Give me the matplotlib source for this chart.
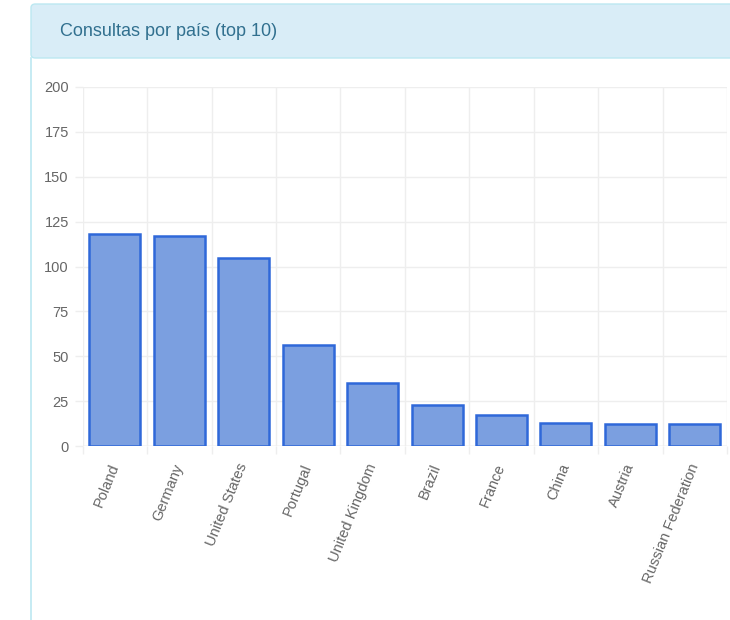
import matplotlib
matplotlib.use("Agg")
import matplotlib.pyplot as plt
from matplotlib.patches import FancyBboxPatch
from matplotlib.lines import Line2D
import numpy as np

# Data
countries = ["Poland", "Germany", "United States", "Portugal", "United Kingdom",
             "Brazil", "France", "China", "Austria", "Russian Federation"]
queries = [118, 117, 105, 56, 35, 23, 17, 13, 12, 12]
y_ticks = [0, 25, 50, 75, 100, 125, 150, 175, 200]

title = "Consultas por país (top 10)"

plt.rcParams["font.family"] = ["Liberation Sans", "DejaVu Sans"]

W, H = 730, 620
fig = plt.figure(figsize=(W / 100, H / 100), dpi=100)
fig.patch.set_facecolor("white")

# Panel header (bootstrap-like info panel)
hx0, hy0, hy1 = 31, 4, 58
header = FancyBboxPatch((hx0 / W, 1 - hy1 / H), (W + 20 - hx0) / W, (hy1 - hy0) / H,
                        boxstyle="round,pad=0,rounding_size=0.006",
                        transform=fig.transFigure, facecolor="#d9edf7",
                        edgecolor="#bce8f1", linewidth=1.0, zorder=0)
fig.patches.append(header)
fig.lines.append(Line2D([hx0 / W, hx0 / W], [0, 1 - hy1 / H], transform=fig.transFigure,
                        color="#bce8f1", linewidth=1.2))
fig.text(60 / W, 1 - 31 / H, title, fontsize=13, color="#31708f",
         va="center", ha="left")

# Chart area
left, right = 82.7, 727
top, bottom = 87, 446
ax = fig.add_axes([left / W, 1 - bottom / H, (right - left) / W, (bottom - top) / H])

x = np.arange(len(countries))
ax.bar(x, queries, width=0.79, color="#7b9fe0", edgecolor="#2f68d9",
       linewidth=1.8, zorder=3)

ax.set_xlim(-0.5, len(countries) - 0.5)
ax.set_ylim(0, 200)
ax.set_yticks(y_ticks)
ax.set_yticklabels([str(v) for v in y_ticks])

ax.set_xticks(x)
ax.set_xticklabels(countries, rotation=68, ha="right", va="center",
                   rotation_mode="anchor")
ax.set_xticks(np.arange(-0.5, len(countries)), minor=True)

for s in ax.spines.values():
    s.set_visible(False)

grid_c = "#eeeeee"
ax.grid(True, axis="y", color=grid_c, linewidth=1.0, zorder=0)
ax.grid(True, axis="x", which="minor", color=grid_c, linewidth=1.0, zorder=0)
ax.grid(False, axis="x", which="major")
ax.axhline(0, color="#dddddd", linewidth=1.0, zorder=1)

ax.tick_params(axis="y", length=6, width=1, color=grid_c, pad=4,
               labelsize=10.5, labelcolor="#666666")
ax.tick_params(axis="x", which="major", length=0, pad=13,
               labelsize=10.5, labelcolor="#666666")
ax.tick_params(axis="x", which="minor", length=6, width=1, color=grid_c)

fig.savefig("out.png", dpi=100, facecolor="white")
